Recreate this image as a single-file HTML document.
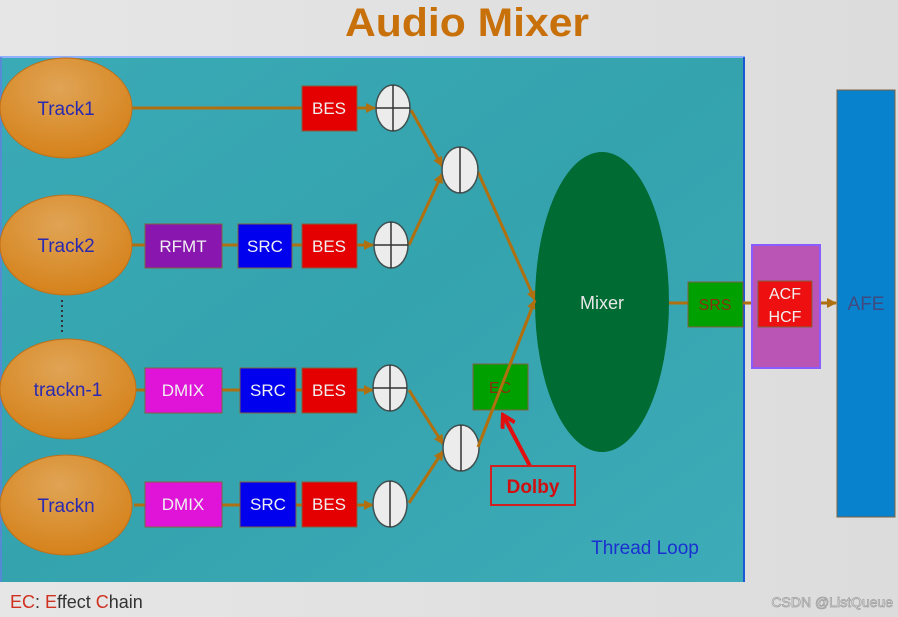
<!DOCTYPE html>
<html><head><meta charset="utf-8"><style>
html,body{margin:0;padding:0;background:#e3e3e3}
svg{display:block}
text{font-family:"Liberation Sans",sans-serif}
</style></head><body>
<svg width="898" height="617" viewBox="0 0 898 617" xmlns="http://www.w3.org/2000/svg">
<defs>
<linearGradient id="bg" x1="0" y1="0" x2="1" y2="0"><stop offset="0" stop-color="#e6e6e6"/><stop offset="1" stop-color="#dcdcdc"/></linearGradient>
<linearGradient id="teal" x1="0" y1="0" x2="1" y2="1"><stop offset="0" stop-color="#3aaab6"/><stop offset="0.5" stop-color="#34a3ae"/><stop offset="1" stop-color="#3eacb8"/></linearGradient>
<radialGradient id="org" cx="0.45" cy="0.3" r="0.8"><stop offset="0" stop-color="#e0a455"/><stop offset="1" stop-color="#d47d12"/></radialGradient>
<marker id="ar" markerWidth="10" markerHeight="10" refX="9" refY="5" orient="auto" markerUnits="userSpaceOnUse"><path d="M0,0 L10,5 L0,10 Z" fill="#b07010"/></marker>
<marker id="rar" markerWidth="16" markerHeight="16" refX="13" refY="8" orient="auto" markerUnits="userSpaceOnUse"><path d="M1,1 L13,8 L1,15" fill="none" stroke="#e01010" stroke-width="4"/></marker>
</defs>
<rect width="898" height="617" fill="url(#bg)"/>
<text x="467" y="36" font-size="40" font-weight="bold" fill="#c8700a" text-anchor="middle" textLength="244" lengthAdjust="spacingAndGlyphs">Audio Mixer</text>
<rect x="0" y="57" width="745" height="525" fill="url(#teal)"/>
<line x1="0" y1="57" x2="745" y2="57" stroke="#8fb0ff" stroke-width="2"/>
<line x1="744" y1="57" x2="744" y2="582" stroke="#1040e0" stroke-width="1.5"/>
<line x1="1" y1="57" x2="1" y2="582" stroke="#6080e0" stroke-width="1.5"/>

<g stroke="#b07010" stroke-width="3" fill="none">
<line x1="130" y1="108" x2="302" y2="108"/>
<line x1="130" y1="245" x2="302" y2="245"/>
<line x1="134" y1="390" x2="302" y2="390"/>
<line x1="134" y1="505" x2="302" y2="505"/>
<line x1="357" y1="108" x2="375" y2="108" marker-end="url(#ar)"/>
<line x1="357" y1="245" x2="373" y2="245" marker-end="url(#ar)"/>
<line x1="357" y1="390" x2="373" y2="390" marker-end="url(#ar)"/>
<line x1="357" y1="505" x2="373" y2="505" marker-end="url(#ar)"/>
<line x1="411" y1="110" x2="442" y2="166" marker-end="url(#ar)"/>
<line x1="409" y1="245" x2="442" y2="174" marker-end="url(#ar)"/>
<line x1="409" y1="390" x2="443" y2="444" marker-end="url(#ar)"/>
<line x1="409" y1="503" x2="443" y2="451" marker-end="url(#ar)"/>
<line x1="478" y1="172" x2="535" y2="300" marker-end="url(#ar)"/>
<line x1="478" y1="447" x2="535" y2="300" marker-end="url(#ar)"/>
<line x1="669" y1="303" x2="688" y2="303"/>
<line x1="743" y1="303" x2="758" y2="303"/>
<line x1="812" y1="303" x2="836" y2="303" marker-end="url(#ar)"/>
</g>
<line x1="62" y1="300" x2="62" y2="334" stroke="#333" stroke-width="2" stroke-dasharray="2,3"/>

<g fill="url(#org)" stroke="#c07018" stroke-width="1">
<ellipse cx="66" cy="108" rx="66" ry="50"/>
<ellipse cx="66" cy="245" rx="66" ry="50"/>
<ellipse cx="68" cy="389" rx="68" ry="50"/>
<ellipse cx="66" cy="505" rx="66" ry="50"/>
</g>
<g font-size="19" fill="#2a2ab0" text-anchor="middle">
<text x="66" y="115">Track1</text>
<text x="66" y="252">Track2</text>
<text x="68" y="396">trackn-1</text>
<text x="66" y="512">Trackn</text>
</g>

<g stroke="#806040" stroke-width="1">
<rect x="302" y="86" width="55" height="45" fill="#e40000"/>
<rect x="302" y="224" width="55" height="44" fill="#e40000"/>
<rect x="302" y="368" width="55" height="45" fill="#e40000"/>
<rect x="302" y="482" width="55" height="45" fill="#e40000"/>
<rect x="145" y="224" width="77" height="44" fill="#8a16b0"/>
<rect x="238" y="224" width="54" height="44" fill="#0000ee"/>
<rect x="145" y="368" width="77" height="45" fill="#e014d8"/>
<rect x="240" y="368" width="56" height="45" fill="#0000ee"/>
<rect x="145" y="482" width="77" height="45" fill="#e014d8"/>
<rect x="240" y="482" width="56" height="45" fill="#0000ee"/>
</g>
<g font-size="17" fill="#f0f0f0" text-anchor="middle">
<text x="329" y="114">BES</text>
<text x="329" y="252">BES</text>
<text x="329" y="396">BES</text>
<text x="329" y="510">BES</text>
<text x="183" y="252">RFMT</text>
<text x="265" y="252">SRC</text>
<text x="183" y="396">DMIX</text>
<text x="268" y="396">SRC</text>
<text x="183" y="510">DMIX</text>
<text x="268" y="510">SRC</text>
</g>

<g fill="#ececec" stroke="#405050" stroke-width="1.5">
<ellipse cx="393" cy="108" rx="17" ry="23"/>
<ellipse cx="391" cy="245" rx="17" ry="23"/>
<ellipse cx="390" cy="388" rx="17" ry="23"/>
<ellipse cx="390" cy="504" rx="17" ry="23"/>
<ellipse cx="460" cy="170" rx="18" ry="23"/>
<ellipse cx="461" cy="448" rx="18" ry="23"/>
</g>
<g stroke="#333" stroke-width="1.5">
<line x1="393" y1="85" x2="393" y2="131"/><line x1="376" y1="108" x2="410" y2="108"/>
<line x1="391" y1="222" x2="391" y2="268"/><line x1="374" y1="245" x2="408" y2="245"/>
<line x1="390" y1="365" x2="390" y2="411"/><line x1="373" y1="388" x2="407" y2="388"/>
<line x1="390" y1="481" x2="390" y2="527"/>
<line x1="460" y1="147" x2="460" y2="193"/>
<line x1="461" y1="425" x2="461" y2="471"/>
</g>

<ellipse cx="602" cy="302" rx="67" ry="150" fill="#006b33"/>
<text x="602" y="309" font-size="18" fill="#e8e8e8" text-anchor="middle">Mixer</text>

<rect x="473" y="364" width="55" height="46" fill="#00a000" stroke="#806040"/>
<text x="500" y="393" font-size="16" fill="#8a3010" text-anchor="middle">EC</text>
<line x1="478" y1="447" x2="535" y2="300" stroke="#b07010" stroke-width="3"/>
<line x1="530" y1="466" x2="503" y2="415" stroke="#e01010" stroke-width="4" marker-end="url(#rar)"/>
<rect x="491" y="466" width="84" height="39" fill="none" stroke="#d02020" stroke-width="2"/>
<text x="533" y="493" font-size="19" font-weight="bold" fill="#d01010" text-anchor="middle">Dolby</text>

<rect x="688" y="282" width="55" height="45" fill="#00a000" stroke="#806040"/>
<text x="715" y="310" font-size="16" fill="#8a3010" text-anchor="middle">SRS</text>
<rect x="752" y="245" width="68" height="123" fill="#bb55b5" stroke="#8a5cff" stroke-width="2"/>
<rect x="758" y="281" width="54" height="46" fill="#ee1010" stroke="#806040"/>
<text x="785" y="299" font-size="16" fill="#f0f0f0" text-anchor="middle">ACF</text>
<text x="785" y="322" font-size="16" fill="#f0f0f0" text-anchor="middle">HCF</text>
<rect x="837" y="90" width="58" height="427" fill="#0882cc" stroke="#806040"/>
<text x="866" y="310" font-size="19" fill="#404a80" text-anchor="middle">AFE</text>

<text x="645" y="554" font-size="19" fill="#1a30d0" text-anchor="middle">Thread Loop</text>
<text x="10" y="608" font-size="18" fill="#333"><tspan fill="#d03020">EC</tspan>: <tspan fill="#d03020">E</tspan>ffect <tspan fill="#d03020">C</tspan>hain</text>
<text x="893" y="607" font-size="14" fill="#f4f4f4" stroke="#a0a0a0" stroke-width="0.8" text-anchor="end">CSDN @ListQueue</text>
</svg>
</body></html>
